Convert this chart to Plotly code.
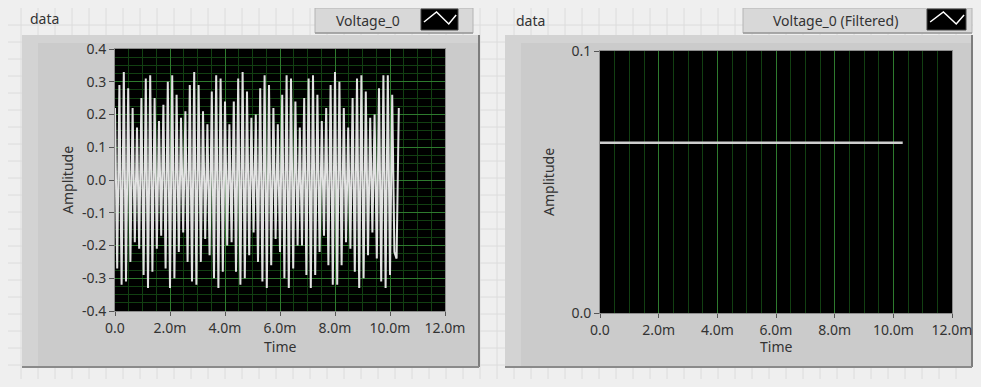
import plotly.graph_objects as go

# ---------------- data ----------------
# Voltage_0 waveform (LabVIEW waveform: t0, dt, Y)
t0 = 0.0
dt = 0.08e-3
voltage_0 = [
    0.22, -0.27, 0.29, -0.32, 0.33, -0.31, 0.28, -0.25, 0.22, -0.19,
    0.16, -0.21, 0.25, -0.29, 0.31, -0.33, 0.32, -0.28, 0.25, -0.21,
    0.18, -0.17, 0.23, -0.27, 0.30, -0.33, 0.32, -0.30, 0.26, -0.22,
    0.19, -0.16, 0.21, -0.25, 0.29, -0.31, 0.33, -0.32, 0.29, -0.25,
    0.21, -0.18, 0.17, -0.23, 0.27, -0.30, 0.32, -0.33, 0.31, -0.28,
    0.24, -0.20, 0.17, -0.19, 0.24, -0.28, 0.31, -0.32, 0.33, -0.30,
    0.27, -0.23, 0.19, -0.16, 0.20, -0.25, 0.28, -0.31, 0.32, -0.33,
    0.29, -0.26, 0.22, -0.18, 0.17, -0.22, 0.26, -0.30, 0.32, -0.33,
    0.31, -0.27, 0.24, -0.20, 0.16, -0.20, 0.25, -0.29, 0.31, -0.33,
    0.32, -0.29, 0.26, -0.22, 0.18, -0.17, 0.22, -0.26, 0.29, -0.32,
    0.33, -0.32, 0.30, -0.26, 0.22, -0.19, 0.16, -0.21, 0.25, -0.28,
    0.31, -0.33, 0.32, -0.30, 0.27, -0.23, 0.19, -0.16, 0.20, -0.24,
    0.28, -0.31, 0.32, -0.33, 0.32, -0.29, 0.26, -0.22, -0.24, 0.22,
]

# Voltage_0 (Filtered)
filtered_t = [0.0, 10.32e-3]
voltage_0_filtered = [0.065, 0.065]

# tick labels
x_tickvals = [0.0, 0.002, 0.004, 0.006, 0.008, 0.010, 0.012]
x_ticktext = ["0.0", "2.0m", "4.0m", "6.0m", "8.0m", "10.0m", "12.0m"]
left_y_tickvals = [-0.4, -0.3, -0.2, -0.1, 0.0, 0.1, 0.2, 0.3, 0.4]
left_y_ticktext = ["-0.4", "-0.3", "-0.2", "-0.1", "0.0", "0.1", "0.2", "0.3", "0.4"]
right_y_tickvals = [0.0, 0.1]
right_y_ticktext = ["0.0", "0.1"]

graph_titles = ["data", "data"]
legend_names = ["Voltage_0", "Voltage_0 (Filtered)"]

# ---------------- layout helpers ----------------
# The page keeps the default 8px body margin, so the figure is sized to
# fill the 981x387 window exactly together with that margin.
PAGE_W, PAGE_H = 981, 387
M = 8
W, H = PAGE_W - 2 * M, PAGE_H - 2 * M


def X(px):
    return (px - M) / W


def Y(py):
    return 1 - (py - M) / H


t = [t0 + i * dt for i in range(len(voltage_0))]

FONT = "Noto Sans"
TXT = "#333333"
FS = 14
BG = "#efefef"

fig = go.Figure()
fig.add_trace(go.Scatter(x=t, y=voltage_0, mode="lines", xaxis="x", yaxis="y",
                         line=dict(color="#e2e2e2", width=2), showlegend=False, hoverinfo="skip"))
fig.add_trace(go.Scatter(x=filtered_t, y=voltage_0_filtered, mode="lines", xaxis="x2", yaxis="y2",
                         line=dict(color="#cfcfcf", width=2.5), showlegend=False, hoverinfo="skip"))

major_grid = "#2e7a2e"
minor_grid = "#123f12"

common_x = dict(range=[0, 0.012], tickmode="array", tickvals=x_tickvals, ticktext=x_ticktext,
                ticks="outside", ticklen=4, tickcolor="#555", tickwidth=1,
                tickfont=dict(family=FONT, size=FS, color=TXT), automargin=False,
                showgrid=True, gridcolor=major_grid, gridwidth=1, zeroline=False,
                showline=True, linecolor="#8c8c8c", mirror=True, fixedrange=True,
                minor=dict(tickmode="linear", tick0=0, dtick=0.0005, showgrid=True,
                           gridcolor=minor_grid, gridwidth=1, ticks=""))

fig.update_layout(
    template="none",
    width=W, height=H, autosize=False,
    margin=dict(l=0, r=0, t=0, b=0, pad=0, autoexpand=False),
    showlegend=False,
    paper_bgcolor=BG, plot_bgcolor="#000000",
    xaxis=dict(domain=[X(115), X(445)], anchor="y", **common_x),
    yaxis=dict(domain=[Y(311), Y(49)], anchor="x", range=[-0.4, 0.4],
               tickmode="array", tickvals=left_y_tickvals, ticktext=left_y_ticktext,
               ticks="outside", ticklen=5, tickcolor="#555", tickwidth=1,
               tickfont=dict(family=FONT, size=FS, color=TXT), automargin=False,
               showgrid=True, gridcolor=major_grid, zeroline=False,
               showline=True, linecolor="#8c8c8c", mirror=True, fixedrange=True,
               minor=dict(tickmode="linear", tick0=0, dtick=0.025, showgrid=True,
                          gridcolor=minor_grid, gridwidth=1, ticks="")),
    xaxis2=dict(domain=[X(600), X(952)], anchor="y2", **common_x),
    yaxis2=dict(domain=[Y(313), Y(51)], anchor="x2", range=[0, 0.1],
                tickmode="array", tickvals=right_y_tickvals, ticktext=right_y_ticktext,
                ticks="outside", ticklen=5, tickcolor="#555", tickwidth=1,
                tickfont=dict(family=FONT, size=FS, color=TXT), automargin=False,
                showgrid=False, zeroline=False,
                showline=True, linecolor="#8c8c8c", mirror=True, fixedrange=True),
)

shapes = []
# front-panel background grid
step = 17
path = ""
for gx in range(4 + step, PAGE_W - M, step):
    path += f"M{X(gx)},{Y(M)}L{X(gx)},{Y(PAGE_H - M)}"
for gy in range(8 + step, PAGE_H - M, step):
    path += f"M{X(M)},{Y(gy)}L{X(PAGE_W - M)},{Y(gy)}"
shapes.append(dict(type="path", xref="paper", yref="paper", path=path,
                   line=dict(color="#dcdcdc", width=1), layer="below"))


def frame(x0, x1, y0, y1):
    s = []
    s.append(dict(type="rect", xref="paper", yref="paper", x0=X(x0), x1=X(x1), y0=Y(y1), y1=Y(y0),
                  fillcolor="#cbcbcb", line=dict(width=0), layer="below"))
    s.append(dict(type="rect", xref="paper", yref="paper", x0=X(x0), x1=X(x0 + 16), y0=Y(y1), y1=Y(y0),
                  fillcolor="#d3d3d3", line=dict(width=0), layer="below"))
    s.append(dict(type="rect", xref="paper", yref="paper", x0=X(x0), x1=X(x1), y0=Y(y0 + 8), y1=Y(y0),
                  fillcolor="#d3d3d3", line=dict(width=0), layer="below"))
    s.append(dict(type="line", xref="paper", yref="paper", x0=X(x1), x1=X(x1), y0=Y(y1), y1=Y(y0),
                  line=dict(color="#7d7d7d", width=2), layer="below"))
    s.append(dict(type="line", xref="paper", yref="paper", x0=X(x0), x1=X(x1), y0=Y(y1), y1=Y(y1),
                  line=dict(color="#8a8a8a", width=2), layer="below"))
    return s


shapes += frame(22, 479, 35, 367)
shapes += frame(505, 972, 35, 367)

# plot areas (black)
for (a, b, c, d) in [(115, 445, 49, 311), (600, 952, 51, 313)]:
    shapes.append(dict(type="rect", xref="paper", yref="paper", x0=X(a), x1=X(b), y0=Y(d), y1=Y(c),
                       fillcolor="#000000", line=dict(width=0), layer="below"))


def legend_box(x0, x1, ix0, ix1):
    s = []
    s.append(dict(type="rect", xref="paper", yref="paper", x0=X(x0), x1=X(x1), y0=Y(33), y1=Y(M),
                  fillcolor="#d8d8d8", line=dict(color="#b4b4b4", width=1), layer="above"))
    s.append(dict(type="line", xref="paper", yref="paper", x0=X(x0), x1=X(x1), y0=Y(33), y1=Y(33),
                  line=dict(color="#9a9a9a", width=1.5), layer="above"))
    s.append(dict(type="rect", xref="paper", yref="paper", x0=X(ix0), x1=X(ix1), y0=Y(30), y1=Y(M + 1),
                  fillcolor="#000000", line=dict(color="#444", width=1), layer="above"))
    w = ix1 - ix0
    pts = [(ix0 + 0.08 * w, 22), (ix0 + 0.42 * w, 12), (ix0 + 0.75 * w, 24), (ix0 + 0.95 * w, 15)]
    p = "M" + "L".join(f"{X(a)},{Y(b)}" for a, b in pts)
    s.append(dict(type="path", xref="paper", yref="paper", path=p,
                  line=dict(color="#ffffff", width=1.5), layer="above"))
    return s


shapes += legend_box(315, 473, 421, 458)
shapes += legend_box(743, 972, 927, 966)
fig.update_layout(shapes=shapes)

ann = []
ann.append(dict(x=X(28), y=Y(19), text=graph_titles[0], xanchor="left", yanchor="middle"))
ann.append(dict(x=X(514), y=Y(20), text=graph_titles[1], xanchor="left", yanchor="middle"))
ann.append(dict(x=X(368), y=Y(20), text=legend_names[0], xanchor="center", yanchor="middle"))
ann.append(dict(x=X(835), y=Y(20), text=legend_names[1], xanchor="center", yanchor="middle"))
ann.append(dict(x=X(280), y=Y(346), text="Time", xanchor="center", yanchor="middle"))
ann.append(dict(x=X(776), y=Y(346), text="Time", xanchor="center", yanchor="middle"))
ann.append(dict(x=X(67), y=Y(180), text="Amplitude", textangle=-90, xanchor="center", yanchor="middle"))
ann.append(dict(x=X(549), y=Y(182), text="Amplitude", textangle=-90, xanchor="center", yanchor="middle"))
for a in ann:
    a.update(xref="paper", yref="paper", showarrow=False, font=dict(family=FONT, size=FS, color=TXT))
fig.update_layout(annotations=ann)

fig.write_html("out.html", config={"displayModeBar": False},
               post_script=f"document.body.style.background='{BG}';")
